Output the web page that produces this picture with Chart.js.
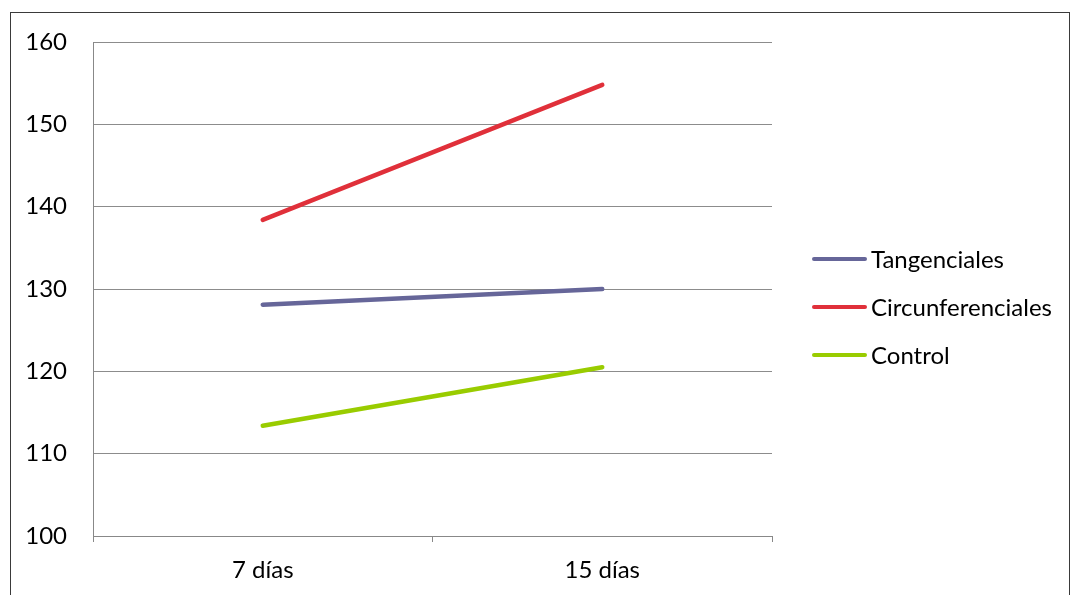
<!DOCTYPE html>
<html>
<head>
<meta charset="utf-8">
<script src="https://cdn.jsdelivr.net/npm/chart.js@4"></script>
<style>
    html, body { margin: 0; padding: 0; background: #fff; overflow: hidden; }
    #wrap { position: relative; width: 1072px; height: 595px; }
    #frame {
        position: absolute; left: 10px; top: 12px;
        width: 1058px; height: 620px;
        border: 1px solid #3a3a3a;
    }
    #chart { position: absolute; left: 0; top: 0; }
</style>
</head>
<body>
<div id="wrap">
    <div id="frame"></div>
    <canvas id="chart" width="1072" height="595"></canvas>
</div>
<script>
// Datos del gráfico
const categories = ['7 días', '15 días'];
const tangenciales = [128.1, 130.0];
const circunferenciales = [138.4, 154.8];
const control = [113.4, 120.5];
const yTicks = [100, 110, 120, 130, 140, 150, 160];

const FONT = 'Lato, "Open Sans", sans-serif';
const FONT_SIZE = 24;

// Leyenda a la derecha, dibujada a mano (línea + texto)
const sideLegend = {
    id: 'sideLegend',
    afterDraw(chart) {
        const ctx = chart.ctx;
        const rows = [259, 307, 355];
        ctx.save();
        ctx.font = FONT_SIZE + 'px ' + FONT;
        ctx.textBaseline = 'middle';
        ctx.lineCap = 'round';
        chart.data.datasets.forEach((ds, i) => {
            const y = rows[i];
            ctx.strokeStyle = ds.borderColor;
            ctx.lineWidth = 4;
            ctx.beginPath();
            ctx.moveTo(814, y);
            ctx.lineTo(865, y);
            ctx.stroke();
            ctx.fillStyle = '#000';
            ctx.fillText(ds.label, 871, y + 1);
        });
        ctx.restore();
    }
};

const ctx = document.getElementById('chart');

new Chart(ctx, {
    type: 'line',
    data: {
        labels: categories,
        datasets: [{
            label: 'Tangenciales',
            data: tangenciales,
            borderColor: '#666699',
        }, {
            label: 'Circunferenciales',
            data: circunferenciales,
            borderColor: '#E0303A',
        }, {
            label: 'Control',
            data: control,
            borderColor: '#99CC00',
        }]
    },
    options: {
        responsive: false,
        animation: false,
        layout: {
            padding: { left: 0, top: 42, right: 300, bottom: 0 }
        },
        elements: {
            line: { borderWidth: 4.5, borderCapStyle: 'round', tension: 0 },
            point: { radius: 0, hoverRadius: 0 }
        },
        plugins: {
            legend: { display: false },
            tooltip: { enabled: false }
        },
        scales: {
            x: {
                offset: true,
                afterFit(scale) { scale.height = 59; },
                grid: {
                    offset: true,
                    drawOnChartArea: false,
                    drawTicks: true,
                    tickLength: 6,
                    color: '#888'
                },
                border: { color: '#888', width: 1 },
                ticks: {
                    color: '#000',
                    padding: 14,
                    font: { family: FONT, size: FONT_SIZE }
                }
            },
            y: {
                min: 100,
                max: 160,
                afterFit(scale) { scale.width = 93; },
                afterBuildTicks(scale) {
                    scale.ticks = yTicks.map(v => ({ value: v }));
                },
                grid: {
                    color: '#8c8c8c',
                    drawTicks: false
                },
                border: { color: '#888', width: 1 },
                ticks: {
                    color: '#000',
                    padding: 26,
                    font: { family: FONT, size: FONT_SIZE }
                }
            }
        }
    },
    plugins: [sideLegend]
});
</script>
</body>
</html>
